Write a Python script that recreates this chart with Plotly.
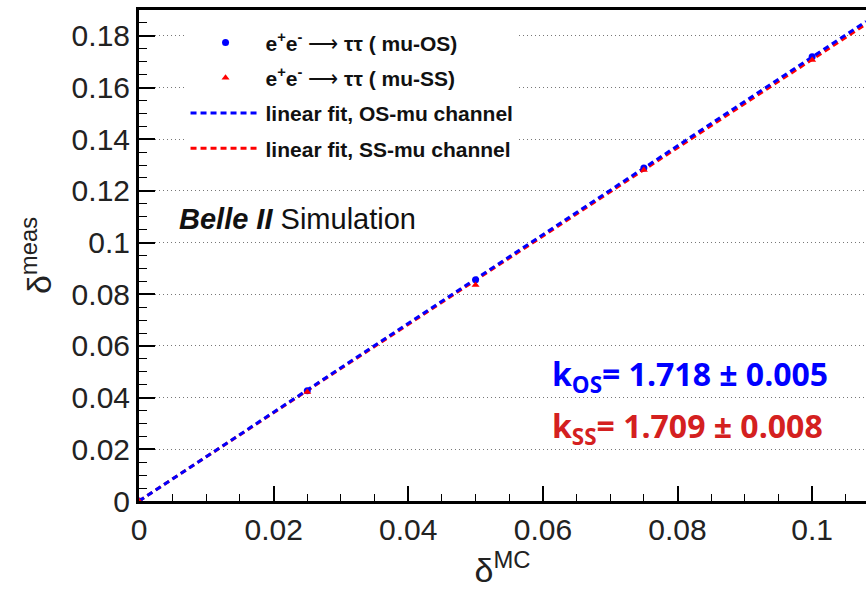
import plotly.graph_objects as go

# data
x_mc = [0.0, 0.025, 0.05, 0.075, 0.1]
y_os = [0.0, 0.0427, 0.0856, 0.1289, 0.1719]
y_ss = [0.0, 0.0422, 0.0836, 0.1281, 0.1707]
k_os = 1.718
k_ss = 1.709
fit_x = [0.0, 0.108]
x_ticks = [0, 0.02, 0.04, 0.06, 0.08, 0.1]
x_labels = ["0", "0.02", "0.04", "0.06", "0.08", "0.1"]
y_ticks = [0, 0.02, 0.04, 0.06, 0.08, 0.1, 0.12, 0.14, 0.16, 0.18]
y_labels = ["0", "0.02", "0.04", "0.06", "0.08", "0.1", "0.12", "0.14", "0.16", "0.18"]

BLUE = "#0000ff"
RED = "#ff0000"

fig = go.Figure()
fig.add_trace(go.Scatter(
    x=fit_x, y=[k_ss * v for v in fit_x], mode="lines",
    line=dict(color=RED, width=3, dash="6px,4px"),
    name="<b>linear fit, SS-mu channel</b>", legendgroup="d", legendrank=4))
fig.add_trace(go.Scatter(
    x=fit_x, y=[k_os * v for v in fit_x], mode="lines",
    line=dict(color=BLUE, width=3, dash="6px,4px"),
    name="<b>linear fit, OS-mu channel</b>", legendgroup="c", legendrank=3))
fig.add_trace(go.Scatter(
    x=x_mc, y=y_os, mode="markers",
    marker=dict(color=BLUE, size=7, symbol="circle"),
    name="<b>e<sup>+</sup>e<sup>-</sup></b> \u27f6 <b>\u03c4\u03c4 ( mu-OS)</b>", legendgroup="a", legendrank=1))
fig.add_trace(go.Scatter(
    x=x_mc, y=y_ss, mode="markers",
    marker=dict(color=RED, size=7, symbol="triangle-up"),
    name="<b>e<sup>+</sup>e<sup>-</sup></b> \u27f6 <b>\u03c4\u03c4 ( mu-SS)</b>", legendgroup="b", legendrank=2))

axis_font = dict(family="Liberation Sans, Arial", size=30, color="#222222")

fig.update_layout(
    width=866, height=589,
    margin=dict(l=139, r=0, t=10, b=88),
    paper_bgcolor="white", plot_bgcolor="white",
    showlegend=True,
    legend=dict(x=0.064, y=0.975, xanchor="left", yanchor="top",
                bgcolor="white", borderwidth=0,
                font=dict(family="Liberation Sans, Arial", size=21, color="#111111"),
                itemwidth=70, tracegroupgap=5, traceorder="grouped"),
    xaxis=dict(range=[0, 0.108], tickmode="array", tickvals=x_ticks, ticktext=x_labels,
               ticks="inside", ticklen=15, tickwidth=1.5, tickcolor="black",
               showline=True, linecolor="black", linewidth=3, mirror=True,
               showgrid=False, zeroline=False, tickfont=axis_font,
               minor=dict(ticks="inside", ticklen=7, dtick=0.005, tickcolor="black", tickwidth=1,
                          showgrid=False),
               title=dict(text="\u03b4<sup>MC</sup>",
                          font=dict(family="Liberation Sans, Arial", size=34, color="#222222"),
                          standoff=20)),
    yaxis=dict(range=[0, 0.19], tickmode="array", tickvals=y_ticks, ticktext=y_labels,
               ticks="inside", ticklen=16, tickwidth=1.5, tickcolor="black",
               showline=True, linecolor="black", linewidth=3, mirror=False,
               showgrid=True, gridcolor="#777777", griddash="1px,3px", gridwidth=1,
               zeroline=False, tickfont=axis_font,
               minor=dict(ticks="inside", ticklen=8, dtick=0.005, tickcolor="black", tickwidth=1,
                          showgrid=False),
               title=dict(text="\u03b4<sup>meas</sup>",
                          font=dict(family="Liberation Sans, Arial", size=34, color="#222222"),
                          standoff=10)),
)

fig.add_annotation(xref="paper", yref="paper", x=0.052, y=0.575, xanchor="left", yanchor="middle",
                   text="<b><i>Belle II</i></b> Simulation", showarrow=False,
                   font=dict(family="Liberation Sans, Arial", size=29, color="#111111"))
fig.add_annotation(xref="paper", yref="paper", x=0.566, y=0.255, xanchor="left", yanchor="middle",
                   text="<b>k<sub>OS</sub>= 1.718 \u00b1 0.005</b>", showarrow=False,
                   font=dict(family="Open Sans", size=32, color=BLUE))
fig.add_annotation(xref="paper", yref="paper", x=0.566, y=0.148, xanchor="left", yanchor="middle",
                   text="<b>k<sub>SS</sub>= 1.709 \u00b1 0.008</b>", showarrow=False,
                   font=dict(family="Open Sans", size=32, color="#d42020"))

fig.write_html("out.html")
